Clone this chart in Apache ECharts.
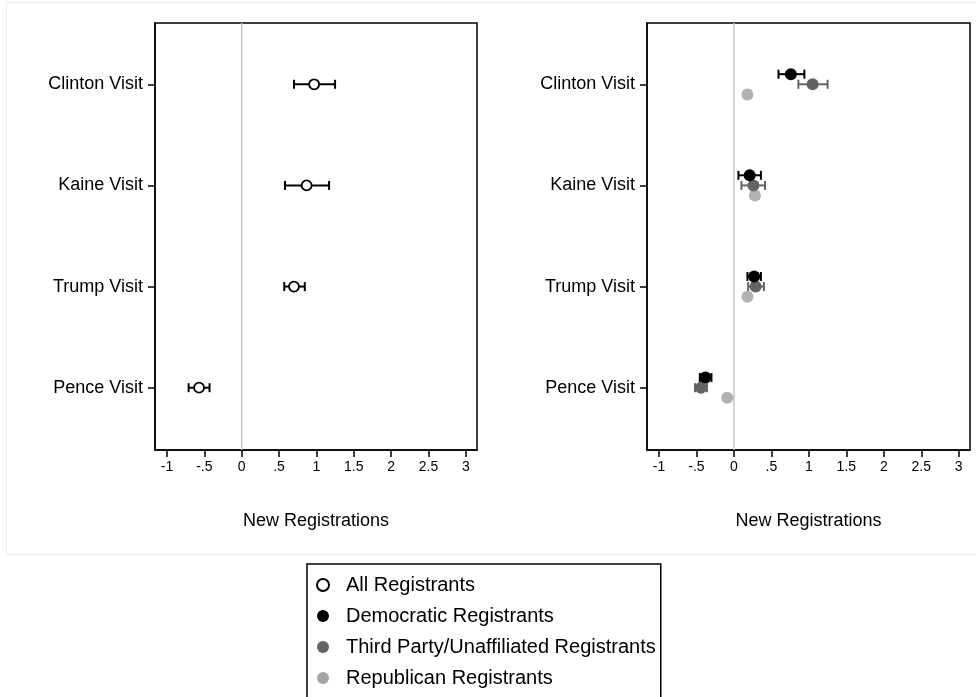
<!DOCTYPE html>
<html>
<head>
<meta charset="utf-8">
<title>New Registrations by Visit</title>
<script src="https://cdn.jsdelivr.net/npm/echarts@6/dist/echarts.min.js"></script>
<style>
  html, body { margin: 0; padding: 0; background: #fff; }
  #chart { width: 976px; height: 697px; }
</style>
</head>
<body>
<div id="chart"></div>
<script>
// visits, top to bottom
const visits = ['Clinton Visit', 'Kaine Visit', 'Trump Visit', 'Pence Visit']
const xTicks = [-1, -0.5, 0, 0.5, 1, 1.5, 2, 2.5, 3]

// left panel: all registrants (estimate, lower, upper)
const allEst = [0.97, 0.87, 0.70, -0.57]
const allLo = [0.70, 0.58, 0.57, -0.71]
const allHi = [1.25, 1.17, 0.845, -0.43]

// right panel: by party
const demEst = [0.76, 0.21, 0.27, -0.38]
const demLo = [0.595, 0.06, 0.18, -0.455]
const demHi = [0.94, 0.36, 0.36, -0.30]

const thirdEst = [1.05, 0.26, 0.29, -0.44]
const thirdLo = [0.86, 0.10, 0.19, -0.52]
const thirdHi = [1.25, 0.415, 0.40, -0.36]

const repEst = [0.18, 0.28, 0.18, -0.09]
const repLo = [0.14, 0.23, 0.14, -0.13]
const repHi = [0.22, 0.33, 0.22, -0.05]

const FONT = "'Liberation Sans', Arial, Helvetica, sans-serif"
const Y_MIN = 0.394
const Y_MAX = 4.616

const chart = echarts.init(document.getElementById('chart'))

// Stata style tick labels: .5 instead of 0.5
const fmtTick = (v) => String(v).replace(/^(-?)0\./, '$1.')

const makeXAxis = (gridIndex) => ({
  gridIndex,
  type: 'value',
  min: -1.16,
  max: 3.15,
  name: 'New Registrations',
  nameLocation: 'middle',
  nameGap: 62,
  nameTextStyle: { color: '#000', fontSize: 18, fontFamily: FONT },
  axisLine: { show: true, onZero: false, lineStyle: { color: '#000', width: 1.5 } },
  axisTick: { show: true, length: 7, customValues: xTicks, lineStyle: { color: '#000', width: 1.5 } },
  axisLabel: { color: '#000', fontSize: 14, fontFamily: FONT, margin: 10, customValues: xTicks, formatter: fmtTick },
  splitLine: { show: false }
})

const makeYAxis = (gridIndex) => ({
  gridIndex,
  type: 'value',
  inverse: true,
  min: Y_MIN,
  max: Y_MAX,
  axisLine: { show: true, onZero: false, lineStyle: { color: '#000', width: 1.5 } },
  axisTick: { show: true, length: 7, customValues: [1, 2, 3, 4], lineStyle: { color: '#000', width: 1.5 } },
  axisLabel: {
    color: '#000', fontSize: 18, fontFamily: FONT, margin: 12,
    padding: [4, 0, 0, 0],
    customValues: [1, 2, 3, 4],
    formatter: (v) => visits[Math.round(v) - 1] || ''
  },
  splitLine: { show: false }
})

// error bar with end caps
const errorBar = (name, axisIndex, lo, hi, offset, color) => ({
  name,
  type: 'custom',
  xAxisIndex: axisIndex,
  yAxisIndex: axisIndex,
  z: 3,
  silent: true,
  encode: { x: [0, 1], y: 2 },
  data: lo.map((l, i) => [l, hi[i], i + 1 + offset]),
  renderItem: (params, api) => {
    const a = api.coord([api.value(0), api.value(2)])
    const b = api.coord([api.value(1), api.value(2)])
    const h = 4.5
    const style = { stroke: color, lineWidth: 2 }
    return {
      type: 'group',
      children: [
        { type: 'line', shape: { x1: a[0], y1: a[1], x2: b[0], y2: b[1] }, style },
        { type: 'line', shape: { x1: a[0], y1: a[1] - h, x2: a[0], y2: a[1] + h }, style },
        { type: 'line', shape: { x1: b[0], y1: b[1] - h, x2: b[0], y2: b[1] + h }, style }
      ]
    }
  }
})

const points = (name, axisIndex, est, offset, itemStyle, size) => ({
  name,
  type: 'scatter',
  xAxisIndex: axisIndex,
  yAxisIndex: axisIndex,
  z: 4,
  symbol: 'circle',
  symbolSize: size,
  itemStyle: Object.assign({ opacity: 1 }, itemStyle),
  data: est.map((v, i) => [v, i + 1 + offset])
})

const zeroLine = (axisIndex) => ({
  type: 'line',
  xAxisIndex: axisIndex,
  yAxisIndex: axisIndex,
  z: 1,
  silent: true,
  symbol: 'none',
  lineStyle: { color: '#c6c6c6', width: 1.5 },
  data: [[0, Y_MIN], [0, Y_MAX]]
})

const COL_DEM = '#000000'
const COL_THIRD = '#636363'
const COL_REP = '#b2b2b2'

const options = {
  backgroundColor: '#fff',
  animation: false,
  textStyle: { fontFamily: FONT },
  graphic: [
    {
      type: 'rect',
      silent: true,
      shape: { x: 6.5, y: 2.5, width: 1000, height: 552 },
      style: { fill: 'none', stroke: '#ebebeb', lineWidth: 1 }
    }
  ],
  grid: [
    { left: 155, top: 23, width: 322, height: 427, show: true, borderColor: '#000', borderWidth: 1.5, backgroundColor: '#fff' },
    { left: 647, top: 23, width: 323, height: 427, show: true, borderColor: '#000', borderWidth: 1.5, backgroundColor: '#fff' }
  ],
  xAxis: [makeXAxis(0), makeXAxis(1)],
  yAxis: [makeYAxis(0), makeYAxis(1)],
  legend: {
    left: 307,
    top: 564,
    height: 160,
    orient: 'vertical',
    borderColor: '#000',
    borderWidth: 1.5,
    backgroundColor: '#fff',
    padding: [11, 5, 20, 9],
    itemGap: 11,
    itemWidth: 12,
    itemHeight: 12,
    selectedMode: false,
    textStyle: { color: '#000', fontSize: 20, fontFamily: FONT, lineHeight: 20, padding: [0, 0, 0, 12] },
    data: [
      { name: 'All Registrants', icon: 'circle', itemStyle: { color: '#fff', borderColor: '#000', borderWidth: 2, opacity: 1 } },
      { name: 'Democratic Registrants', icon: 'circle', itemStyle: { color: COL_DEM, opacity: 1 } },
      { name: 'Third Party/Unaffiliated Registrants', icon: 'circle', itemStyle: { color: COL_THIRD, opacity: 1 } },
      { name: 'Republican Registrants', icon: 'circle', itemStyle: { color: '#a6a6a6', opacity: 1 } }
    ]
  },
  series: [
    zeroLine(0),
    zeroLine(1),
    errorBar('allErr', 0, allLo, allHi, 0, '#000'),
    points('All Registrants', 0, allEst, 0, { color: '#fff', borderColor: '#000', borderWidth: 1.8 }, 10),

    errorBar('repErr', 1, repLo, repHi, 0.1, COL_REP),
    points('Republican Registrants', 1, repEst, 0.1, { color: COL_REP }, 12),
    errorBar('thirdErr', 1, thirdLo, thirdHi, 0, COL_THIRD),
    points('Third Party/Unaffiliated Registrants', 1, thirdEst, 0, { color: COL_THIRD }, 12),
    errorBar('demErr', 1, demLo, demHi, -0.1, COL_DEM),
    points('Democratic Registrants', 1, demEst, -0.1, { color: COL_DEM }, 12)
  ]
}

chart.setOption(options)
</script>
</body>
</html>
